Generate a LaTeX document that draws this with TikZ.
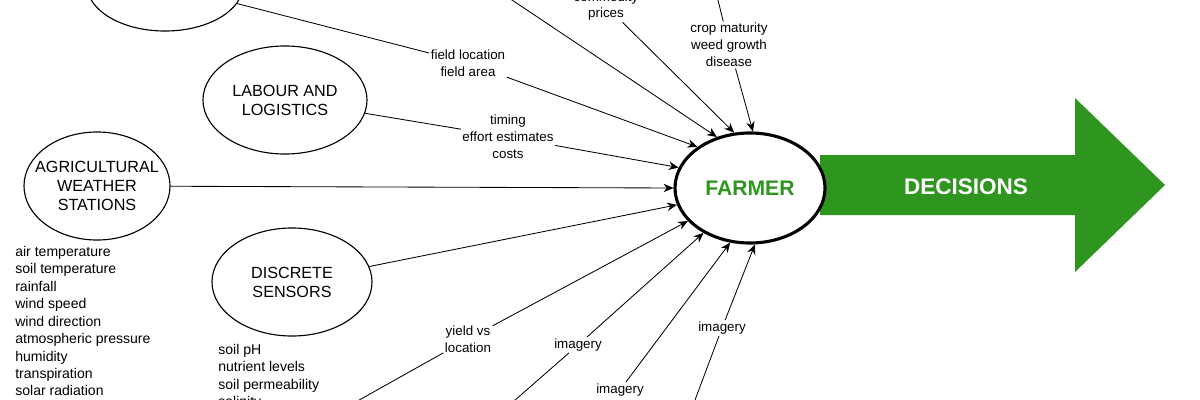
\documentclass[tikz,border=0pt]{standalone}
\usepackage{fontspec}
\setmainfont{Liberation Sans}
\usetikzlibrary{shapes.geometric,arrows.meta}
\definecolor{farmgreen}{RGB}{46,150,30}
\tikzset{
  source/.style={draw, ellipse, thick, align=center, inner xsep=-4mm, inner ysep=-2mm, font=\fontsize{11.5}{13.5}\selectfont},
  info/.style={align=center, inner sep=1pt, font=\fontsize{9.5}{12}\selectfont},
  feed/.style={-{Stealth[length=7pt,width=6pt]}, semithick},
  plain/.style={semithick},
  readings/.style={align=left, anchor=north west, inner sep=0pt, font=\fontsize{10}{12.4}\selectfont}
}
\begin{document}
\begin{tikzpicture}[x=0.025cm, y=-0.025cm]
            \useasboundingbox (0,0) rectangle (1200,400);
            \clip (0,0) rectangle (1200,400);

            % Decisions arrow
            \fill[farmgreen] (820,155) -- (1075,155) -- (1075,98) -- (1165,185)
              -- (1075,272) -- (1075,215) -- (820,215) -- cycle;
            \node[white, font=\fontsize{16}{18}\selectfont\bfseries] (decisions) at (966,187) {DECISIONS};

            % Farmer
            \node[draw, ellipse, line width=2.2pt, fill=white, inner sep=-2mm,
              minimum width=3.75cm, minimum height=2.75cm, text=farmgreen,
              font=\fontsize{15}{18}\selectfont\bfseries] (farmer) at (750,188) {FARMER};

            % Sources
            \node[source, minimum width=3.9cm, minimum height=2.3cm] (mapping) at (165,-15) {};
            \node[source, minimum width=4.1cm, minimum height=2.7cm] (labour) at (285,100) {LABOUR AND\\LOGISTICS};
            \node[source, minimum width=3.65cm, minimum height=2.7cm] (weather) at (97,186) {AGRICULTURAL\\WEATHER\\STATIONS};
            \node[source, minimum width=4cm, minimum height=2.7cm] (discrete) at (292,282) {DISCRETE\\SENSORS};

            % Readings lists
            \node[readings] (weatherlist) at (15,246) {air temperature\\soil temperature\\rainfall\\wind speed\\wind direction\\atmospheric pressure\\humidity\\transpiration\\solar radiation};
            \node[readings] (discretelist) at (218,344) {soil pH\\nutrient levels\\soil permeability\\salinity};

            % Labels on the feeds
            \node[info] (field) at (468,63) {field location\\field area};
            \node[info] (timing) at (508,137) {timing\\effort estimates\\costs};
            \node[info] (prices) at (606,6) {commodity\\prices};
            \node[info] (crop) at (729,45) {crop maturity\\weed growth\\disease};
            \node[info] (yield) at (468,339) {yield vs\\location};
            \node[info] (imageA) at (578,345) {imagery};
            \node[info] (imageB) at (620,390) {imagery};
            \node[info] (imageC) at (722,328) {imagery};

            % Free ends outside the picture
            \coordinate (topfeed) at (500,-8);
            \coordinate (croptop) at (716,-8);
            \coordinate (yieldlow) at (345,408);
            \coordinate (imageAlow) at (506,408);
            \coordinate (imageClow) at (692,408);

            % Feeds into the farmer
            \draw[plain] (mapping) -- (field);
            \draw[feed] (field) -- (farmer.142);
            \draw[feed] (topfeed) -- (farmer.123);
            \draw[feed] (prices) -- (farmer.106);
            \draw[plain] (croptop) -- (crop);
            \draw[feed] (crop) -- (farmer.87);
            \draw[plain] (labour) -- (timing);
            \draw[feed] (timing) -- (farmer.164);
            \draw[feed] (weather) -- (farmer.180);
            \draw[feed] (discrete) -- (farmer.193);
            \draw[plain] (yieldlow) -- (yield);
            \draw[feed] (yield) -- (farmer.208);
            \draw[plain] (imageAlow) -- (imageA);
            \draw[feed] (imageA) -- (farmer.224);
            \draw[feed] (imageB) -- (farmer.250);
            \draw[plain] (imageClow) -- (imageC);
            \draw[feed] (imageC) -- (farmer.275);
\end{tikzpicture}
\end{document}
